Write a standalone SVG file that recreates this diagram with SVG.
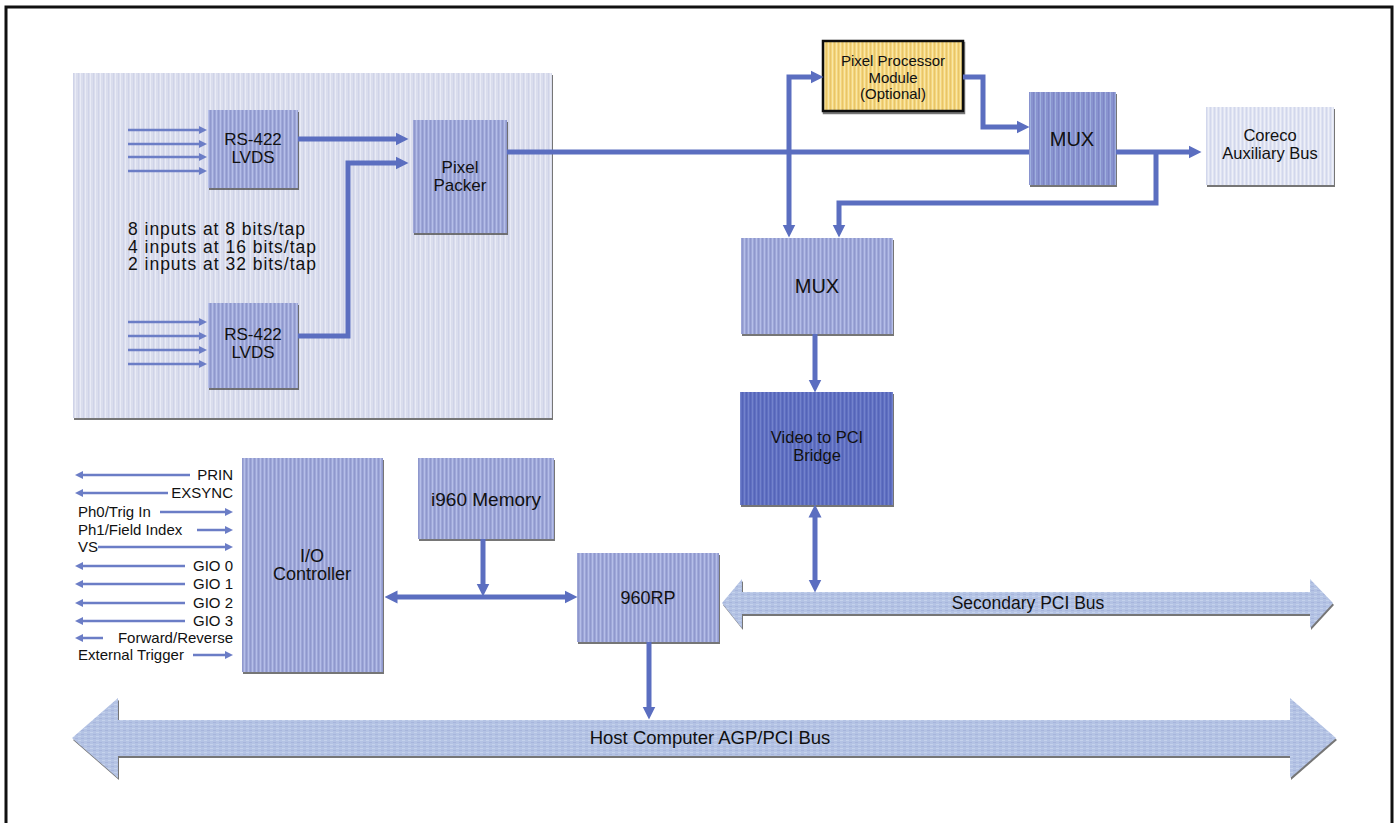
<svg xmlns="http://www.w3.org/2000/svg" width="1396" height="823" viewBox="0 0 1396 823">
<defs>
<style>
text{font-family:"Liberation Sans",Arial,sans-serif;fill:#111;}
.lbl{text-anchor:middle;}
.sig{font-size:15px;}
.inp{font-size:17.5px;}
.conn{fill:none;stroke:#5b6ec0;stroke-width:5;}
.thin{fill:none;stroke:#6b7dc6;stroke-width:2.5;}
.box{filter:url(#sh);}
</style>
<filter id="sh" x="-5%" y="-5%" width="115%" height="115%">
<feDropShadow dx="1" dy="2" stdDeviation="0.6" flood-color="#555" flood-opacity="0.8"/>
</filter>
<pattern id="pPanel" width="5" height="6" patternUnits="userSpaceOnUse"><rect width="5" height="6" fill="#dadded"/><rect width="1" height="6" fill="#e9ebf6"/><rect x="3" width="1" height="6" fill="#cfd3e8"/></pattern>
<pattern id="pBox" width="4" height="6" patternUnits="userSpaceOnUse"><rect width="4" height="6" fill="#9ea7d8"/><rect width="1" height="6" fill="#b5bee8"/><rect x="2" width="1" height="6" fill="#8f98cd"/></pattern>
<pattern id="pMux" width="5" height="6" patternUnits="userSpaceOnUse"><rect width="5" height="6" fill="#8993cf"/><rect width="1" height="6" fill="#9fb0de"/><rect x="3" width="1" height="6" fill="#7c86c5"/></pattern>
<pattern id="pBridge" width="4" height="6" patternUnits="userSpaceOnUse"><rect width="4" height="6" fill="#6070c2"/><rect width="1" height="6" fill="#7383cc"/><rect x="2" width="1" height="6" fill="#5565b8"/></pattern>
<pattern id="pLight" width="4" height="6" patternUnits="userSpaceOnUse"><rect width="4" height="6" fill="#dfe3f2"/><rect width="1" height="6" fill="#eef0f8"/><rect x="2" width="1" height="6" fill="#d2d7ec"/></pattern>
<pattern id="pYellow" width="4" height="6" patternUnits="userSpaceOnUse"><rect width="4" height="6" fill="#f4d67c"/><rect width="1" height="6" fill="#f9e6a8"/><rect x="2" width="1" height="6" fill="#e8c46a"/></pattern>
<pattern id="pBus" width="6" height="4" patternUnits="userSpaceOnUse"><rect width="6" height="4" fill="#b4c3e4"/><rect width="3" height="1" fill="#c5d2ec"/><rect x="3" y="2" width="3" height="1" fill="#a7b5dc"/></pattern>
<marker id="ah" viewBox="0 0 10 10" refX="5" refY="5" markerWidth="13" markerHeight="15" markerUnits="userSpaceOnUse" orient="auto-start-reverse"><path d="M0,0 L10,5 L0,10 z" fill="#5b6ec0"/></marker>
<marker id="as" viewBox="0 0 10 10" refX="5" refY="5" markerWidth="8" markerHeight="8" markerUnits="userSpaceOnUse" orient="auto-start-reverse"><path d="M0,0 L10,5 L0,10 z" fill="#6b7dc6"/></marker>
</defs>

<rect x="6" y="7" width="1386" height="840" fill="#fff" stroke="#111" stroke-width="3"/>

<g id="input-panel">
<rect x="73" y="73" width="479" height="345" fill="url(#pPanel)" class="box"/>
<text class="inp" x="128" y="235" textLength="177">8 inputs at 8 bits/tap</text>
<text class="inp" x="128" y="252.5" textLength="188">4 inputs at 16 bits/tap</text>
<text class="inp" x="128" y="270" textLength="188">2 inputs at 32 bits/tap</text>
</g>

<g id="rs422-top"><rect x="208" y="110" width="90" height="78" fill="url(#pBox)" class="box"/><text class="lbl" x="253" y="145" style="font-size:17px">RS-422</text><text class="lbl" x="253" y="163" style="font-size:17px">LVDS</text></g>
<g id="rs422-bottom"><rect x="208" y="303" width="90" height="85" fill="url(#pBox)" class="box"/><text class="lbl" x="253" y="340" style="font-size:17px">RS-422</text><text class="lbl" x="253" y="358" style="font-size:17px">LVDS</text></g>
<g id="pixel-packer"><rect x="413" y="120" width="94" height="113" fill="url(#pBox)" class="box"/><text class="lbl" x="460" y="173" style="font-size:17px">Pixel</text><text class="lbl" x="460" y="191" style="font-size:17px">Packer</text></g>
<g id="pixel-processor"><rect x="823" y="41" width="140" height="70" fill="url(#pYellow)" stroke="#111" stroke-width="2.5" class="box"/><text class="lbl" x="893" y="66" style="font-size:15px">Pixel Processor</text><text class="lbl" x="893" y="82.5" style="font-size:15px">Module</text><text class="lbl" x="893" y="99" style="font-size:15px">(Optional)</text></g>
<g id="mux-top"><rect x="1029" y="92" width="87" height="93" fill="url(#pMux)" class="box"/><text class="lbl" x="1072" y="146" style="font-size:20px">MUX</text></g>
<g id="coreco-bus"><rect x="1206" y="107" width="128" height="78" fill="url(#pLight)" class="box"/><text class="lbl" x="1270" y="141" style="font-size:16.5px">Coreco</text><text class="lbl" x="1270" y="159" style="font-size:16.5px">Auxiliary Bus</text></g>
<g id="mux-mid"><rect x="741" y="238" width="152" height="96" fill="url(#pBox)" class="box"/><text class="lbl" x="817" y="293" style="font-size:20px">MUX</text></g>
<g id="video-bridge"><rect x="740" y="392" width="153" height="113" fill="url(#pBridge)" class="box"/><text class="lbl" x="817" y="443" style="font-size:16.5px">Video to PCI</text><text class="lbl" x="817" y="461" style="font-size:16.5px">Bridge</text></g>
<g id="i960-memory"><rect x="418" y="458" width="136" height="81" fill="url(#pBox)" class="box"/><text class="lbl" x="486" y="506" style="font-size:19px">i960 Memory</text></g>
<g id="io-controller"><rect x="242" y="458" width="141" height="214" fill="url(#pBox)" class="box"/><text class="lbl" x="312" y="562" style="font-size:18px">I/O</text><text class="lbl" x="312" y="580" style="font-size:18px">Controller</text></g>
<g id="rp960"><rect x="577" y="553" width="142" height="89" fill="url(#pBox)" class="box"/><text class="lbl" x="648" y="604" style="font-size:18px">960RP</text></g>

<g id="secondary-pci-bus"><polygon points="722,603 742,579 742,592 1310,592 1310,579 1333,603 1310,628 1310,614 742,614 742,628" fill="url(#pBus)" class="box"/><text class="lbl" x="1028" y="609" style="font-size:17.5px">Secondary PCI Bus</text></g>
<g id="host-bus"><polygon points="72,738 118,698 118,720 1290,720 1290,698 1336,738 1290,778 1290,756 118,756 118,778" fill="url(#pBus)" class="box"/><text class="lbl" x="710" y="744" style="font-size:18.5px">Host Computer AGP/PCI Bus</text></g>

<g id="signals">
<text class="sig" x="233" y="480" text-anchor="end">PRIN</text>
<text class="sig" x="233" y="498" text-anchor="end">EXSYNC</text>
<text class="sig" x="78" y="517">Ph0/Trig In</text>
<text class="sig" x="78" y="535">Ph1/Field Index</text>
<text class="sig" x="78" y="552">VS</text>
<text class="sig" x="233" y="571" text-anchor="end">GIO 0</text>
<text class="sig" x="233" y="589" text-anchor="end">GIO 1</text>
<text class="sig" x="233" y="608" text-anchor="end">GIO 2</text>
<text class="sig" x="233" y="626" text-anchor="end">GIO 3</text>
<text class="sig" x="233" y="643" text-anchor="end">Forward/Reverse</text>
<text class="sig" x="78" y="660">External Trigger</text>
</g>

<g id="connectors">
<path class="thin" d="M128,130 H203" marker-end="url(#as)"/>
<path class="thin" d="M128,144 H203" marker-end="url(#as)"/>
<path class="thin" d="M128,157 H203" marker-end="url(#as)"/>
<path class="thin" d="M128,171 H203" marker-end="url(#as)" stroke-width="3.5"/>
<path class="thin" d="M128,322 H203" marker-end="url(#as)"/>
<path class="thin" d="M128,336 H203" marker-end="url(#as)"/>
<path class="thin" d="M128,350 H203" marker-end="url(#as)" stroke-width="3.5"/>
<path class="thin" d="M128,364 H203" marker-end="url(#as)"/>
<path class="thin" d="M190,475 H79" marker-end="url(#as)"/>
<path class="thin" d="M168,493 H79" marker-end="url(#as)"/>
<path class="thin" d="M160,512 H229" marker-end="url(#as)"/>
<path class="thin" d="M197,530 H229" marker-end="url(#as)"/>
<path class="thin" d="M98,547 H229" marker-end="url(#as)"/>
<path class="thin" d="M185,566 H79" marker-end="url(#as)" stroke-width="3.5"/>
<path class="thin" d="M185,584 H79" marker-end="url(#as)"/>
<path class="thin" d="M185,603 H79" marker-end="url(#as)"/>
<path class="thin" d="M185,621 H79" marker-end="url(#as)"/>
<path class="thin" d="M103,638 H79" marker-end="url(#as)"/>
<path class="thin" d="M193,655 H229" marker-end="url(#as)"/>
<path class="conn" d="M298,139 H402" marker-end="url(#ah)"/>
<path class="conn" d="M298,336 H348 V163 H402" marker-end="url(#ah)"/>
<path class="conn" d="M507,152 H1029"/>
<path class="conn" d="M789,152 V77 H817" marker-end="url(#ah)"/>
<path class="conn" d="M789,152 V231" marker-end="url(#ah)"/>
<path class="conn" d="M963,77 H983 V127 H1023" marker-end="url(#ah)"/>
<path class="conn" d="M1116,152 H1195" marker-end="url(#ah)"/>
<path class="conn" d="M1156,152 V203 H839 V231" marker-end="url(#ah)"/>
<path class="conn" d="M815,334 V386" marker-end="url(#ah)"/>
<path class="conn" d="M815,511 V586" marker-start="url(#ah)" marker-end="url(#ah)"/>
<path class="conn" d="M483,539 V590" marker-end="url(#ah)"/>
<path class="conn" d="M391,597 H571" marker-start="url(#ah)" marker-end="url(#ah)"/>
<path class="conn" d="M649,642 V713" marker-end="url(#ah)"/>
</g>
</svg>
